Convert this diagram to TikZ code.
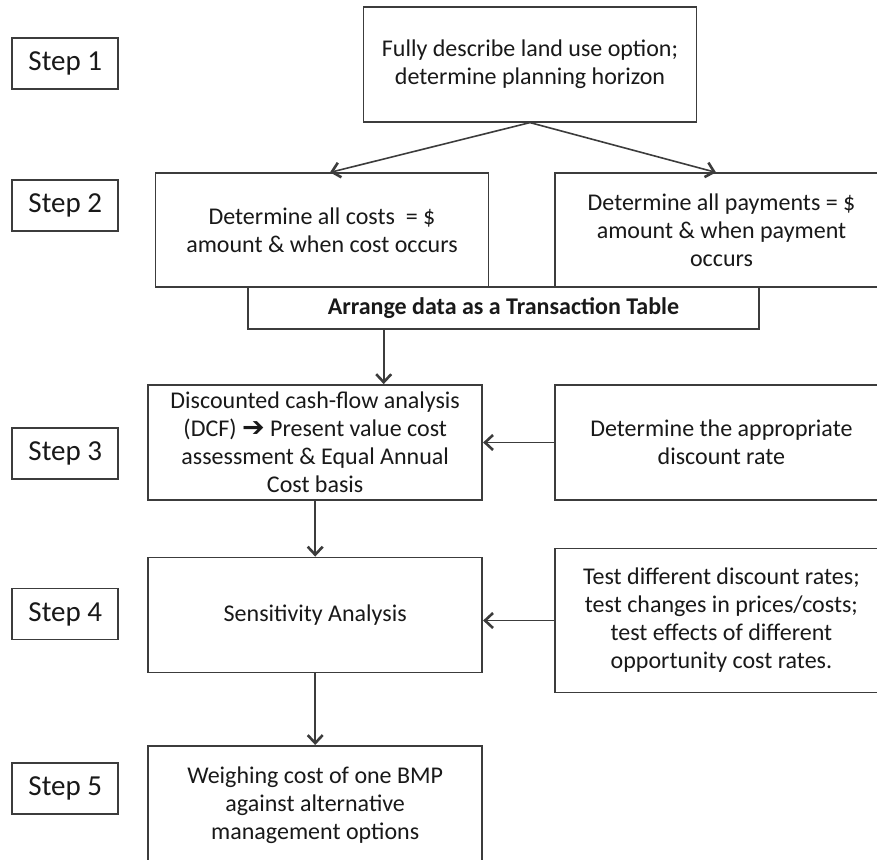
\documentclass[tikz,border=0pt]{standalone}
\usepackage{fontspec}
\setmainfont{Carlito}
\newfontfamily\symfont{DejaVu Sans}
\usetikzlibrary{arrows.meta,calc}
\definecolor{linec}{RGB}{60,60,60}
\definecolor{textc}{RGB}{25,25,25}
\begin{document}
\begin{tikzpicture}[x=1pt,y=-1pt,
  box/.style={draw=linec, line width=1.8pt, fill=white, text=textc, align=center,
    inner sep=0pt, font=\fontsize{24}{28}\selectfont},
  stepbox/.style={draw=linec, line width=1.8pt, fill=white, text=textc,
    minimum width=106pt, minimum height=51pt, inner sep=0pt,
    font=\fontsize{29}{33}\selectfont},
  arr/.style={draw=linec, line width=1.6pt, -{Straight Barb[length=8pt,width=15pt,line width=2.6pt]}}]
\useasboundingbox (0,0) rectangle (877,859);
\clip (0,0) rectangle (877,859);
% step labels
\node[stepbox] (s1) at (65.3,63.8) {Step 1};
\node[stepbox] (s2) at (65.3,205.5) {Step 2};
\node[stepbox] (s3) at (65.3,453.3) {Step 3};
\node[stepbox] (s4) at (65.3,614) {Step 4};
\node[stepbox] (s5) at (65.3,788.3) {Step 5};
% main boxes
\node[box, minimum width=333pt, minimum height=115pt] (top) at (530,64.2)
  {Fully describe land use option;\\determine planning horizon};
\node[box, minimum width=333pt, minimum height=114pt] (cost) at (322,230.3)
  {Determine all costs\ \ = \$\\amount \& when cost occurs};
\node[box, minimum width=333pt, minimum height=114pt] (pay) at (721.5,230.3)
  {Determine all payments = \$\\amount \& when payment\\occurs};
\node[box, minimum width=511pt, minimum height=42pt, font=\fontsize{24}{28}\selectfont\bfseries] (trans) at (503.4,308.3)
  {Arrange data as a Transaction Table};
\node[box, minimum width=334pt, minimum height=115pt] (dcf) at (315.2,442.5)
  {Discounted cash-flow analysis\\(DCF) {\symfont\fontsize{27}{28}\selectfont ➔} Present value cost\\assessment \& Equal Annual\\Cost basis};
\node[box, minimum width=333pt, minimum height=115pt] (rate) at (721.4,442.5)
  {Determine the appropriate\\discount rate};
\node[box, minimum width=334pt, minimum height=115pt] (sens) at (315.2,615)
  {Sensitivity Analysis};
\node[box, minimum width=333pt, minimum height=144pt] (test) at (721.4,620.5)
  {Test different discount rates;\\test changes in prices/costs;\\test effects of different\\opportunity cost rates.};
\node[box, minimum width=334pt, minimum height=118pt] (weigh) at (315.2,804.9)
  {Weighing cost of one BMP\\against alternative\\management options};
% connectors
\draw[arr] (top.south) -- ([xshift=8pt]cost.north);
\draw[arr] (top.south) -- ([xshift=-5.5pt]pay.north);
\draw[arr] ([xshift=-119.7pt]trans.south) -- ([xshift=-119.7pt]trans.south |- dcf.north);
\draw[arr] (rate.west) -- (dcf.east);
\draw[arr] (dcf.south) -- (sens.north);
\draw[arr] (test.west) -- (test.west -| sens.east);
\draw[arr] (sens.south) -- (weigh.north);
\end{tikzpicture}
\end{document}
